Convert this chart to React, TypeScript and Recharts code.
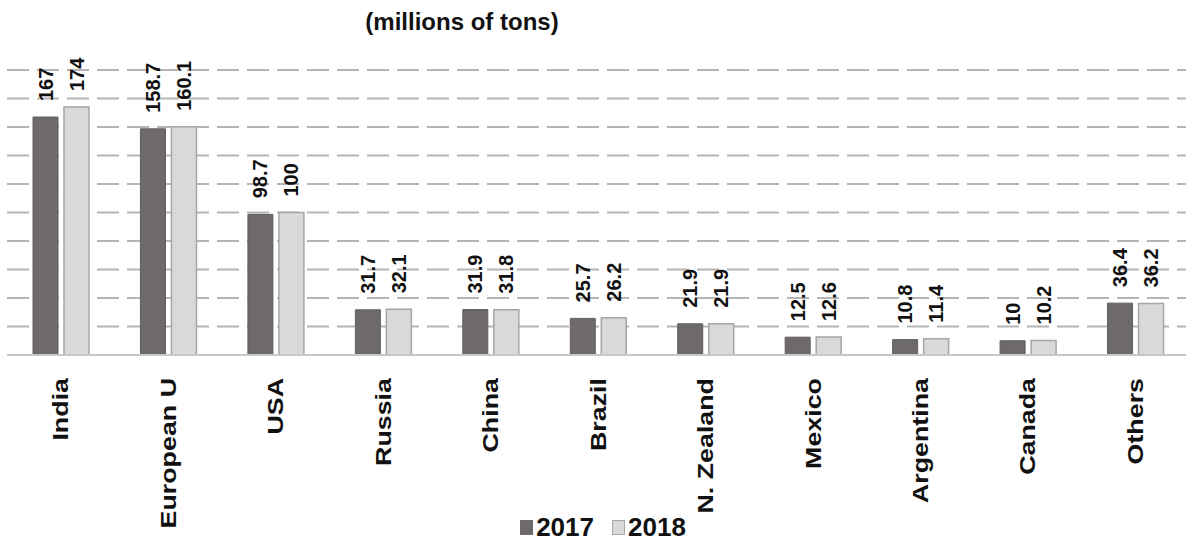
import React from "react";
import { BarChart, Bar, XAxis, YAxis, CartesianGrid, Legend, LabelList } from "recharts";

const categories = ["India", "European U", "USA", "Russia", "China", "Brazil", "N. Zealand", "Mexico", "Argentina", "Canada", "Others"];
const values2017 = [167, 158.7, 98.7, 31.7, 31.9, 25.7, 21.9, 12.5, 10.8, 10, 36.4];
const values2018 = [174, 160.1, 100, 32.1, 31.8, 26.2, 21.9, 12.6, 11.4, 10.2, 36.2];
const seriesNames = ["2017", "2018"];
const yTicks = [0, 20, 40, 60, 80, 100, 120, 140, 160, 180, 200];
const title = "(millions of tons)";

const data = categories.map((c, i) => ({ name: c, y2017: values2017[i], y2018: values2018[i] }));

const FONT = "'Liberation Sans', Arial, sans-serif";

const CategoryTick = (props: any) => {
  const { x, y, payload } = props;
  return (
    <g transform={`translate(${x},${y + 15})`}>
      <text
        transform="rotate(-90) scale(1.22,1)"
        textAnchor="end"
        dominantBaseline="central"
        fontFamily={FONT}
        fontWeight="bold"
        fontSize={22}
        fill="#111"
      >
        {payload.value}
      </text>
    </g>
  );
};

const ValueLabel = (props: any) => {
  const { x, y, width, value } = props;
  return (
    <text
      transform={`translate(${x + width / 2},${y - 16}) rotate(-90)`}
      textAnchor="start"
      dominantBaseline="central"
      fontFamily={FONT}
      fontWeight="bold"
      fontSize={20}
      fill="#111"
    >
      {value}
    </text>
  );
};

const LegendContent = () => {
  const items = [
    { name: seriesNames[0], fill: "#6e6a6b", stroke: "#6e6a6b" },
    { name: seriesNames[1], fill: "#d9d9d9", stroke: "#a6a6a6" },
  ];
  return (
    <div style={{ display: "flex", justifyContent: "center", alignItems: "center", gap: 18, fontFamily: FONT, marginLeft: 10 }}>
      {items.map((it) => (
        <div key={it.name} style={{ display: "flex", alignItems: "center" }}>
          <span
            style={{
              display: "inline-block",
              width: 13,
              height: 15,
              background: it.fill,
              border: `1px solid ${it.stroke}`,
              boxSizing: "border-box",
              marginRight: 3,
            }}
          />
          <span style={{ fontWeight: "bold", fontSize: 26, color: "#111", lineHeight: "28px" }}>{it.name}</span>
        </div>
      ))}
    </div>
  );
};

export default function App() {
  return (
    <div style={{ position: "absolute", left: 0, top: 0, width: 1186, height: 543, overflow: "hidden", background: "#fff" }}>
      <div
        style={{
          position: "absolute",
          left: 462,
          top: 8,
          transform: "translateX(-50%)",
          fontFamily: FONT,
          fontWeight: "bold",
          fontSize: 24,
          whiteSpace: "nowrap",
          color: "#111",
        }}
      >
        {title}
      </div>
      <BarChart
        width={1190}
        height={543}
        data={data}
        margin={{ top: 70, right: 1, left: 7, bottom: 0 }}
        barSize={25}
        barGap={6}
      >
        <CartesianGrid vertical={false} stroke="#b5b5b5" strokeWidth={2} strokeDasharray="22 8" />
        <YAxis hide domain={[0, 200]} ticks={yTicks} />
        <XAxis
          dataKey="name"
          interval={0}
          tickLine={false}
          axisLine={{ stroke: "#c8c8c8", strokeWidth: 2 }}
          tick={<CategoryTick />}
          height={158}
        />
        <Legend verticalAlign="bottom" height={30} content={<LegendContent />} />
        <Bar dataKey="y2017" name={seriesNames[0]} fill="#6e6a6b" stroke="#625e5f" strokeWidth={1} isAnimationActive={false}>
          <LabelList dataKey="y2017" content={<ValueLabel />} />
        </Bar>
        <Bar dataKey="y2018" name={seriesNames[1]} fill="#d9d9d9" stroke="#a6a6a6" strokeWidth={1.5} isAnimationActive={false}>
          <LabelList dataKey="y2018" content={<ValueLabel />} />
        </Bar>
      </BarChart>
    </div>
  );
}
